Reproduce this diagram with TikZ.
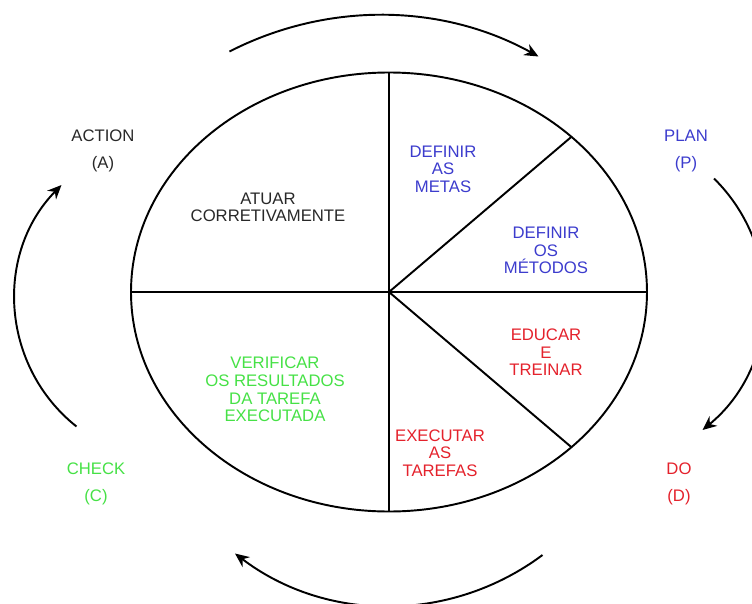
\documentclass[tikz,border=0pt]{standalone}
\usepackage{fontspec}
\setmainfont{Liberation Sans}
\usetikzlibrary{arrows.meta}
\definecolor{planblue}{RGB}{60,60,205}
\definecolor{dored}{RGB}{228,34,44}
\definecolor{checkgreen}{RGB}{70,225,70}
\definecolor{actgray}{RGB}{40,40,40}

\begin{document}
\begin{tikzpicture}[
  line width=1.1pt,
  etapa/.style={align=center, inner sep=0pt, font=\fontsize{9.5}{10}\selectfont},
  fase/.style={align=center, inner sep=0pt, font=\fontsize{9.5}{15}\selectfont},
  ciclo/.style={-{Stealth[length=8pt,width=7pt]}}
]
\useasboundingbox (-7.78,-6.22) rectangle (7.26,5.84);

% Elipse e divisoes
\coordinate (O) at (0,0);
\coordinate (N) at (0,4.39);
\coordinate (S) at (0,-4.39);
\coordinate (W) at (-5.16,0);
\coordinate (E) at (5.16,0);
\coordinate (NE) at (3.649,3.104);
\coordinate (SE) at (3.649,-3.104);
\draw (O) ellipse [x radius=5.16, y radius=4.39];
\draw (N) -- (S);
\draw (W) -- (E);
\draw (O) -- (NE);
\draw (O) -- (SE);

% Etapas
\node[etapa, actgray] (atuar) at (-2.42,1.69) {ATUAR\\CORRETIVAMENTE};
\node[etapa, planblue] (metas) at (1.08,2.46) {DEFINIR\\AS\\METAS};
\node[etapa, planblue] (metodos) at (3.14,0.83) {DEFINIR\\OS\\MÉTODOS};
\node[etapa, dored] (educar) at (3.14,-1.21) {EDUCAR\\E\\TREINAR};
\node[etapa, dored] (executar) at (1.02,-3.22) {EXECUTAR\\AS\\TAREFAS};
\node[etapa, checkgreen] (verificar) at (-2.28,-1.95) {VERIFICAR\\OS RESULTADOS\\DA TAREFA\\EXECUTADA};

% Fases
\node[fase, actgray] (action) at (-5.72,2.82) {ACTION\\(A)};
\node[fase, planblue] (plan) at (5.94,2.82) {PLAN\\(P)};
\node[fase, dored] (do) at (5.80,-3.84) {DO\\(D)};
\node[fase, checkgreen] (check) at (-5.86,-3.84) {CHECK\\(C)};

% Setas do ciclo
\coordinate (t1) at (-3.19,4.81);
\coordinate (t2) at (2.99,4.71);
\coordinate (r1) at (6.50,2.27);
\coordinate (r2) at (6.27,-2.76);
\coordinate (b1) at (3.07,-5.26);
\coordinate (b2) at (-3.08,-5.23);
\coordinate (l1) at (-6.25,-2.69);
\coordinate (l2) at (-6.55,2.14);
\draw[ciclo] (t1) to[bend left=28, looseness=0.91] (t2);
\draw[ciclo] (r1) to[bend left=48, looseness=1.02] (r2);
\draw[ciclo] (b1) to[bend left=37, looseness=0.95] (b2);
\draw[ciclo] (l1) to[bend left=48, looseness=1.02] (l2);
\end{tikzpicture}
\end{document}
